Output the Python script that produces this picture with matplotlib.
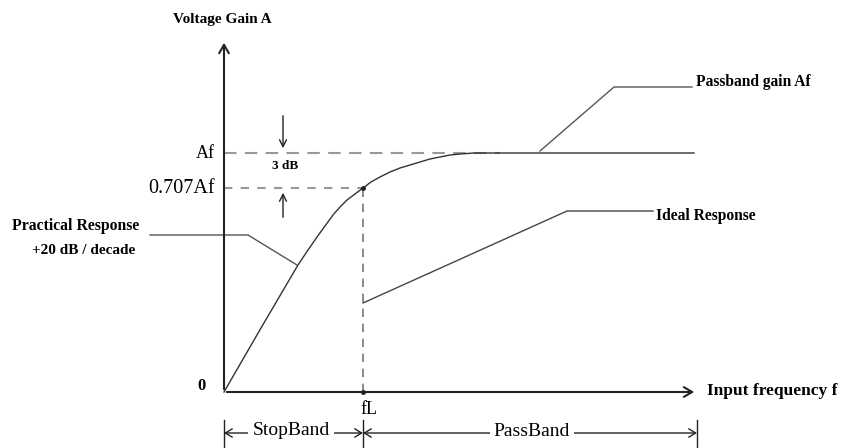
import matplotlib.pyplot as plt

# diagram units: x = frequency (0 at origin), y = gain (0 at origin)
Af = 239
Af707 = 204
fL = 139
x_end = 473
y_top = 352

curve_x = [0, 37, 74, 84, 93, 101, 109, 116, 123, 131, 139, 147, 156, 166, 176, 186, 196, 206, 216, 226, 236, 250, 263, 296, 470]
curve_y = [0, 64, 127, 142, 155, 166, 177, 185, 192, 198, 204, 210, 215, 220, 224, 227, 230, 233, 235, 237, 238, 239, 239, 239, 239]

ideal_x = [fL, 343, 429]
ideal_y = [89, 181, 181]

# leader lines for labels
practical_lead_x = [-74, 24, 73]
practical_lead_y = [157, 157, 127]
passband_lead_x = [316, 390, 468]
passband_lead_y = [241, 305, 305]

serif = ['Liberation Serif', 'DejaVu Serif']

fig = plt.figure(figsize=(8.51, 4.48), dpi=100)
ax = fig.add_axes([0, 0, 1, 1])
ax.set_xlim(-224, 627)
ax.set_ylim(-56, 392)
ax.axis('off')

# axes with open arrow heads
ax.annotate('', xy=(0, y_top), xytext=(0, 0),
            arrowprops=dict(arrowstyle='->,head_length=0.6,head_width=0.35', lw=1.5, color='#222'))
ax.annotate('', xy=(x_end, 0), xytext=(0, 0),
            arrowprops=dict(arrowstyle='->,head_length=0.6,head_width=0.35', lw=1.5, color='#222'))

# reference dashed lines
ax.plot([0, 276], [Af, Af], '--', color='#999', lw=1.5, dashes=(6, 4))
ax.plot([0, fL], [Af707, Af707], '--', color='#999', lw=1.5, dashes=(4, 4))
ax.plot([fL, fL], [0, Af707], '--', color='#777', lw=1.2, dashes=(5, 4))

# responses
ax.plot(curve_x, curve_y, color='#333', lw=1)
ax.plot(ideal_x, ideal_y, color='#444', lw=1)
ax.plot([fL, fL], [0, Af707], 'o', color='#222', ms=2.5)

ax.plot(practical_lead_x, practical_lead_y, color='#555', lw=1)
ax.plot(passband_lead_x, passband_lead_y, color='#555', lw=1)

# 3 dB arrows
ax.annotate('', xy=(59, Af + 2), xytext=(59, 279),
            arrowprops=dict(arrowstyle='->,head_length=0.5,head_width=0.25', lw=1, color='#222'))
ax.annotate('', xy=(59, Af707 - 2), xytext=(59, 172),
            arrowprops=dict(arrowstyle='->,head_length=0.5,head_width=0.25', lw=1, color='#222'))
ax.text(61, 226, '3 dB', ha='center', va='center', fontsize=9.5, fontweight='bold', family=serif)

# band arrows
yb = -41
ax.annotate('', xy=(0, yb), xytext=(fL, yb),
            arrowprops=dict(arrowstyle='<->,head_length=0.5,head_width=0.3', lw=1, color='#222', shrinkA=0, shrinkB=0))
ax.annotate('', xy=(fL, yb), xytext=(x_end, yb),
            arrowprops=dict(arrowstyle='<->,head_length=0.5,head_width=0.3', lw=1, color='#222', shrinkA=0, shrinkB=0))
for xb in [0, fL, x_end]:
    ax.plot([xb, xb], [-28, -56], color='#222', lw=1)
ax.text(67, yb + 3, 'StopBand', ha='center', va='center', fontsize=14, family=serif,
        bbox=dict(facecolor='white', edgecolor='none', pad=3))
ax.text(308, yb + 2, 'PassBand', ha='center', va='center', fontsize=14, family=serif,
        bbox=dict(facecolor='white', edgecolor='none', pad=3))

# labels
ax.text(-2, 373, 'Voltage Gain A', ha='center', va='center', fontsize=11, fontweight='bold', family=serif)
ax.text(483, 1, 'Input frequency f', ha='left', va='center', fontsize=12.5, fontweight='bold', family=serif)
ax.text(-9, Af, 'Af', ha='right', va='center', fontsize=13, family=serif)
ax.text(-9, Af707, '0.707Af', ha='right', va='center', fontsize=14.5, family=serif)
ax.text(-23, 6, '0', ha='center', va='center', fontsize=12, fontweight='bold', family=serif)
ax.text(145, -17, 'fL', ha='center', va='center', fontsize=13, family=serif)
ax.text(-212, 166, 'Practical Response', ha='left', va='center', fontsize=11.3, fontweight='bold', family=serif)
ax.text(-192, 142, '+20 dB / decade', ha='left', va='center', fontsize=11, fontweight='bold', family=serif)
ax.text(472, 310, 'Passband gain Af', ha='left', va='center', fontsize=11.2, fontweight='bold', family=serif)
ax.text(432, 176, 'Ideal Response', ha='left', va='center', fontsize=11.2, fontweight='bold', family=serif)

fig.savefig('out.png', dpi=100)
